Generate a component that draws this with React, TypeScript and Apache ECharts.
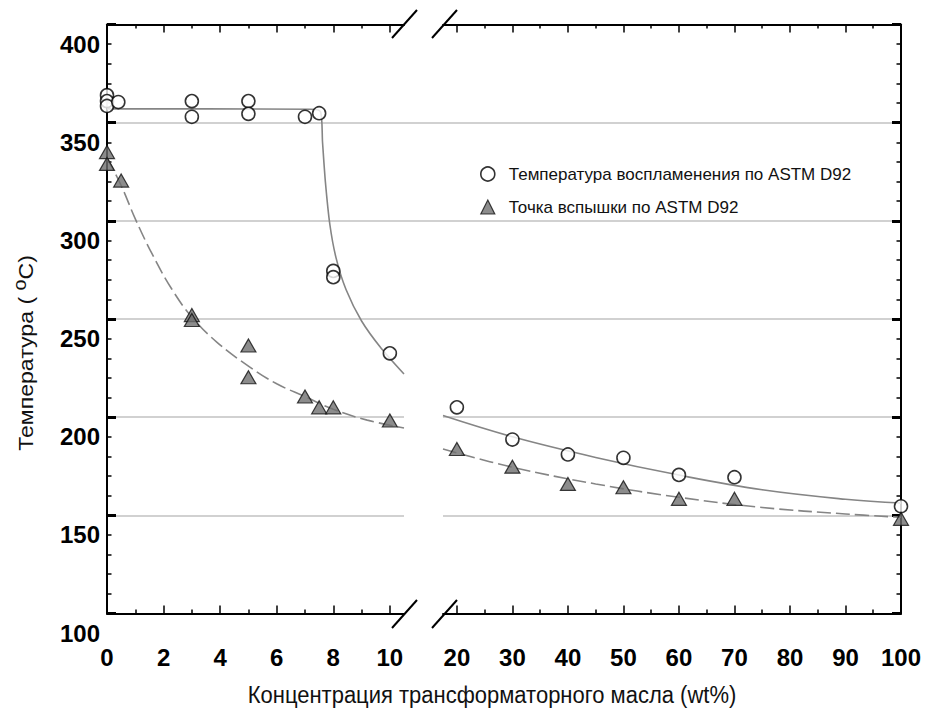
import React, { useEffect, useRef } from "react";
import * as echarts from "echarts";

// ---------- data ----------
const IGN_NAME = "Температура воспламенения по ASTM D92";
const FLASH_NAME = "Точка вспышки по ASTM D92";

// measured points, low-concentration segment (0–10 wt%)
const ignitionLowX = [0, 0, 0, 0.4, 3, 3, 5, 5, 7, 7.5, 8, 8, 10];
const ignitionLowT = [374, 371, 368.5, 370.5, 371, 363, 371, 364.5, 363, 364.8, 284.5, 281.3, 242.5];
const flashLowX = [0, 0, 0.5, 3, 3, 5, 5, 7, 7.5, 8, 10];
const flashLowT = [345, 339, 330.5, 262, 259.5, 246.5, 230.3, 220.5, 215, 215, 208.3];

// measured points, high-concentration segment (20–100 wt%)
const ignitionHighX = [20, 30, 40, 50, 60, 70, 100];
const ignitionHighT = [215, 198.6, 191, 189.3, 180.6, 179.4, 164.6];
const flashHighX = [20, 30, 40, 50, 60, 70, 100];
const flashHighT = [193.8, 184.8, 176, 174.3, 168.4, 168.4, 158.2];

// fitted curves
const ignitionFitLowX = [0, 3.5, 7.2, 7.55, 7.62, 7.72, 7.88, 8.1, 8.45, 9.0, 9.7, 10.5];
const ignitionFitLowT = [367, 367, 366.8, 365.5, 350, 330, 308, 291, 275, 259, 245, 232];
const flashFitLowX = [0, 0.5, 1.0, 1.6, 2.3, 3.0, 3.9, 5.0, 6.0, 7.0, 8.0, 9.2, 10.5];
const flashFitLowT = [342, 328, 311, 293, 275, 261, 248, 236, 227, 220.5, 214, 208.5, 204.5];
const ignitionFitHighX = [17.5, 30, 45, 60, 75, 90, 100];
const ignitionFitHighT = [210.8, 200, 189.5, 180.5, 173, 168.2, 166.3];
const flashFitHighX = [17.5, 30, 45, 60, 75, 90, 100];
const flashFitHighT = [193.8, 184.5, 176, 169.2, 164, 160.7, 159];

// axis ticks / labels
const lowMajorTicks = [0, 2, 4, 6, 8, 10];
const lowMinorTicks = [1, 3, 5, 7, 9];
const highMajorTicks = [20, 30, 40, 50, 60, 70, 80, 90, 100];
const highMinorTicks = [25, 35, 45, 55, 65, 75, 85, 95];
const yLabelValues = [100, 150, 200, 250, 300, 350, 400];

const X_TITLE = "Концентрация трансформаторного масла (wt%)";

// ---------- layout ----------
const FONT = "'Liberation Sans', Arial, Helvetica, sans-serif";
const TOP = 24.5;
const H = 589;
const Y_MIN = 110;
const Y_MAX = 410;
const PX_PER_DEG = H / (Y_MAX - Y_MIN);
const LEFT_L = 107;
const LEFT_W = 297;
const RIGHT_L = 443;
const RIGHT_W = 458;

const zip = (xs: number[], ys: number[]) => xs.map((x, i) => [x, ys[i]]);

const labelStyle = {
  fontSize: 24,
  fontWeight: "bold" as const,
  color: "#000",
  fontFamily: FONT,
};

function xAxisDef(
  gridIndex: number,
  min: number,
  max: number,
  position: "top" | "bottom",
  ticks: number[],
  tickLen: number,
  line: boolean,
  labels: number[] | null
) {
  return {
    type: "value",
    gridIndex,
    min,
    max,
    position,
    axisLine: { show: line, onZero: false, lineStyle: { color: "#000", width: 2 } },
    axisTick: {
      show: true,
      inside: true,
      length: tickLen,
      customValues: ticks,
      lineStyle: { color: "#000", width: 1.5 },
    },
    axisLabel: labels
      ? { show: true, customValues: labels, margin: 32, ...labelStyle }
      : { show: false },
    splitLine: { show: false },
  };
}

function yAxisDef(gridIndex: number, position: "left" | "right") {
  return {
    type: "value",
    gridIndex,
    min: Y_MIN,
    max: Y_MAX,
    interval: 50,
    position,
    axisLine: { show: true, onZero: false, lineStyle: { color: "#000", width: 2 } },
    axisTick: { show: true, inside: true, length: 9, lineStyle: { color: "#000", width: 3 } },
    minorTick: { show: true, splitNumber: 5, length: 4.5, lineStyle: { color: "#000", width: 1.5 } },
    axisLabel: { show: false },
    splitLine: { show: true, lineStyle: { color: "#c2c2c2", width: 1.5 } },
  };
}

const fitLine = (
  name: string,
  xi: number,
  yi: number,
  xs: number[],
  ys: number[],
  dashed: boolean,
  smooth: number
) => ({
  type: "line",
  name,
  xAxisIndex: xi,
  yAxisIndex: yi,
  data: zip(xs, ys),
  symbol: "none",
  showSymbol: false,
  smooth,
  silent: true,
  z: 3,
  lineStyle: { color: "#858585", width: 1.6, type: dashed ? [14, 5] : "solid" },
});

const circleStyle = { color: "#ffffff", borderColor: "#000", borderWidth: 1.6 };
const triStyle = { color: "#6f6f6f", borderColor: "#111", borderWidth: 1.2 };

const option: any = {
  animation: false,
  backgroundColor: "#ffffff",
  textStyle: { fontFamily: FONT },
  grid: [
    { left: LEFT_L, top: TOP, width: LEFT_W, height: H, containLabel: false, outerBoundsMode: "none" },
    { left: RIGHT_L, top: TOP, width: RIGHT_W, height: H, containLabel: false, outerBoundsMode: "none" },
    // label grid: extends down to 100 °C
    {
      left: LEFT_L,
      top: TOP,
      width: 10,
      height: H + (Y_MIN - 100) * PX_PER_DEG,
      containLabel: false,
      outerBoundsMode: "none",
    },
    // gap grid: the upper grid lines cross the axis break
    {
      left: LEFT_L + LEFT_W,
      top: TOP + (Y_MAX - 360) * PX_PER_DEG,
      width: RIGHT_L - LEFT_L - LEFT_W,
      height: 100 * PX_PER_DEG,
      containLabel: false,
      outerBoundsMode: "none",
    },
  ],
  xAxis: [
    xAxisDef(0, 0, 10.5, "bottom", lowMajorTicks, 8, true, lowMajorTicks), // 0
    xAxisDef(0, 0, 10.5, "bottom", lowMinorTicks, 4, false, null), // 1
    xAxisDef(0, 0, 10.5, "top", lowMajorTicks, 8, true, null), // 2
    xAxisDef(0, 0, 10.5, "top", lowMinorTicks, 4, false, null), // 3
    xAxisDef(1, 17.5, 100, "bottom", highMajorTicks, 8, true, highMajorTicks), // 4
    xAxisDef(1, 17.5, 100, "bottom", highMinorTicks, 4, false, null), // 5
    xAxisDef(1, 17.5, 100, "top", highMajorTicks, 8, true, null), // 6
    xAxisDef(1, 17.5, 100, "top", highMinorTicks, 4, false, null), // 7
    { type: "value", gridIndex: 2, show: false, min: 0, max: 1 }, // 8
    { type: "value", gridIndex: 3, show: false, min: 0, max: 1 }, // 9
  ],
  yAxis: [
    yAxisDef(0, "left"),
    yAxisDef(1, "right"),
    {
      type: "value",
      gridIndex: 2,
      min: 100,
      max: Y_MAX,
      position: "left",
      axisLine: { show: false },
      axisTick: { show: false },
      splitLine: { show: false },
      axisLabel: { show: true, customValues: yLabelValues, margin: 7, ...labelStyle },
    },
    {
      type: "value",
      gridIndex: 3,
      min: 260,
      max: 360,
      interval: 50,
      axisLine: { show: false },
      axisTick: { show: false },
      axisLabel: { show: false },
      splitLine: { show: true, lineStyle: { color: "#c2c2c2", width: 1.5 } },
    },
  ],
  legend: {
    show: true,
    orient: "vertical",
    left: 475,
    top: 160.5,
    itemWidth: 14,
    itemHeight: 14,
    itemGap: 16,
    selectedMode: false,
    textStyle: { fontSize: 17, color: "#111", fontFamily: FONT, padding: [0, 0, 0, 9], lineHeight: 17 },
    data: [
      { name: IGN_NAME, icon: "circle", itemStyle: circleStyle },
      { name: FLASH_NAME, icon: "triangle", itemStyle: triStyle },
    ],
  },
  series: [
    fitLine("fit-ign-low", 0, 0, ignitionFitLowX, ignitionFitLowT, false, 0.25),
    fitLine("fit-flash-low", 0, 0, flashFitLowX, flashFitLowT, true, 0.4),
    fitLine("fit-ign-high", 4, 1, ignitionFitHighX, ignitionFitHighT, false, 0.4),
    fitLine("fit-flash-high", 4, 1, flashFitHighX, flashFitHighT, true, 0.4),
    {
      type: "scatter",
      name: IGN_NAME,
      xAxisIndex: 0,
      yAxisIndex: 0,
      data: zip(ignitionLowX, ignitionLowT),
      symbol: "circle",
      symbolSize: 13,
      itemStyle: circleStyle,
      z: 5,
    },
    {
      type: "scatter",
      name: IGN_NAME,
      xAxisIndex: 4,
      yAxisIndex: 1,
      data: zip(ignitionHighX, ignitionHighT),
      symbol: "circle",
      symbolSize: 13,
      itemStyle: circleStyle,
      z: 5,
    },
    {
      type: "scatter",
      name: FLASH_NAME,
      xAxisIndex: 0,
      yAxisIndex: 0,
      data: zip(flashLowX, flashLowT),
      symbol: "triangle",
      symbolSize: [15, 13],
      itemStyle: triStyle,
      z: 5,
    },
    {
      type: "scatter",
      name: FLASH_NAME,
      xAxisIndex: 4,
      yAxisIndex: 1,
      data: zip(flashHighX, flashHighT),
      symbol: "triangle",
      symbolSize: [15, 13],
      itemStyle: triStyle,
      z: 5,
    },
  ],
  graphic: [
    // axis-break marks
    { type: "line", shape: { x1: 392, y1: 628, x2: 417, y2: 600 }, style: { stroke: "#000", lineWidth: 2 } },
    { type: "line", shape: { x1: 432, y1: 628, x2: 457, y2: 600 }, style: { stroke: "#000", lineWidth: 2 } },
    { type: "line", shape: { x1: 392, y1: 38, x2: 417, y2: 10 }, style: { stroke: "#000", lineWidth: 2 } },
    { type: "line", shape: { x1: 432, y1: 38, x2: 457, y2: 10 }, style: { stroke: "#000", lineWidth: 2 } },
    {
      type: "text",
      x: 492,
      y: 695,
      scaleY: 1.12,
      style: {
        text: X_TITLE,
        fontSize: 22,
        fontFamily: FONT,
        fill: "#111",
        align: "center",
        verticalAlign: "middle",
      },
    },
    {
      type: "text",
      x: 26,
      y: 353,
      rotation: Math.PI / 2,
      scaleX: 1.1,
      style: {
        text: "{a|Температура ( }{s|o}{a|C)}",
        align: "center",
        verticalAlign: "middle",
        rich: {
          a: { fontSize: 21, fontFamily: FONT, fill: "#111", lineHeight: 24 },
          s: { fontSize: 18, fontFamily: FONT, fill: "#111", verticalAlign: "top", padding: [0, 0, 12, 0] },
        },
      },
    },
  ],
};

export default function App() {
  const ref = useRef<HTMLDivElement>(null);
  useEffect(() => {
    document.body.style.margin = "0";
    const chart = echarts.init(ref.current!, null, { renderer: "svg" });
    chart.setOption(option);
    return () => chart.dispose();
  }, []);
  return <div ref={ref} style={{ width: 926, height: 711 }} />;
}
